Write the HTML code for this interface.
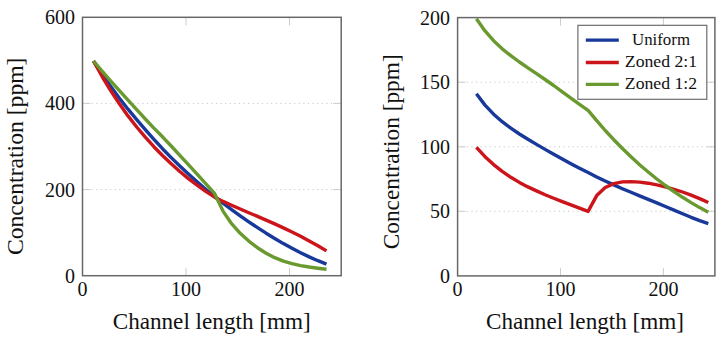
<!DOCTYPE html>
<html><head><meta charset="utf-8"><title>chart</title>
<style>html,body{margin:0;padding:0;background:#fff}body{width:725px;height:341px;overflow:hidden;font-family:"Liberation Serif",serif}</style></head>
<body>
<svg width="725" height="341" viewBox="0 0 725 341" style="display:block" font-family="'Liberation Serif', serif" fill="#111">
<rect width="725" height="341" fill="#fff"/>
<line x1="82.5" y1="189.6" x2="341.2" y2="189.6" stroke="#c8c8c8" stroke-width="1" stroke-dasharray="1.2 3.4"/>
<line x1="82.5" y1="103.4" x2="341.2" y2="103.4" stroke="#c8c8c8" stroke-width="1" stroke-dasharray="1.2 3.4"/>
<line x1="186.0" y1="275.7" x2="186.0" y2="267.7" stroke="#cdcdcd" stroke-width="1"/>
<line x1="186.0" y1="17.3" x2="186.0" y2="25.3" stroke="#cdcdcd" stroke-width="1"/>
<line x1="289.5" y1="275.7" x2="289.5" y2="267.7" stroke="#cdcdcd" stroke-width="1"/>
<line x1="289.5" y1="17.3" x2="289.5" y2="25.3" stroke="#cdcdcd" stroke-width="1"/>
<line x1="82.5" y1="189.6" x2="90.5" y2="189.6" stroke="#cdcdcd" stroke-width="1"/>
<line x1="341.2" y1="189.6" x2="333.2" y2="189.6" stroke="#cdcdcd" stroke-width="1"/>
<line x1="82.5" y1="103.4" x2="90.5" y2="103.4" stroke="#cdcdcd" stroke-width="1"/>
<line x1="341.2" y1="103.4" x2="333.2" y2="103.4" stroke="#cdcdcd" stroke-width="1"/>
<path d="M93.5 61.0 L102.1 74.3 L110.8 86.6 L119.4 98.2 L128.0 109.2 L136.7 119.7 L145.3 129.7 L153.9 139.3 L162.5 148.7 L171.2 157.6 L179.8 166.0 L188.4 174.0 L197.1 181.8 L205.7 189.2 L214.3 196.4 L223.0 203.2 L231.6 209.6 L240.2 215.8 L248.8 221.8 L257.5 227.6 L266.1 233.2 L274.7 238.5 L283.4 243.6 L292.0 248.3 L300.6 252.8 L309.2 256.9 L317.9 260.7 L326.5 264.1" fill="none" stroke="#18399a" stroke-width="3.4" stroke-linejoin="round" stroke-linecap="butt"/>
<path d="M93.5 61.0 L102.1 76.5 L110.8 90.8 L119.4 103.8 L128.0 115.9 L136.7 127.0 L145.3 137.2 L153.9 146.7 L162.5 155.5 L171.2 163.8 L179.8 171.5 L188.4 178.6 L197.1 185.2 L205.7 191.3 L214.3 196.9 L223.0 201.4 L231.6 205.2 L240.2 209.0 L248.8 212.7 L257.5 216.4 L266.1 220.1 L274.7 223.9 L283.4 227.9 L292.0 232.0 L300.6 236.3 L309.2 240.9 L317.9 245.7 L326.5 250.9" fill="none" stroke="#cc141b" stroke-width="3.4" stroke-linejoin="round" stroke-linecap="butt"/>
<path d="M93.5 61.0 L102.1 71.2 L110.8 81.1 L119.4 90.7 L128.0 100.2 L136.7 109.6 L145.3 119.0 L153.9 128.1 L162.5 136.8 L171.2 146.0 L179.8 155.3 L188.4 164.7 L197.1 174.2 L205.7 183.6 L214.3 193.1 L223.0 211.1 L231.6 223.7 L240.2 233.3 L248.8 241.1 L257.5 247.7 L266.1 253.2 L274.7 257.7 L283.4 261.1 L292.0 263.7 L300.6 265.6 L309.2 267.0 L317.9 268.2 L326.5 269.2" fill="none" stroke="#69992f" stroke-width="3.4" stroke-linejoin="round" stroke-linecap="butt"/>
<rect x="82.5" y="17.3" width="258.7" height="258.4" fill="none" stroke="#686868" stroke-width="1.5"/>
<text x="75.0" y="282.6" font-size="20.0" text-anchor="end" >0</text>
<text x="75.0" y="196.5" font-size="20.0" text-anchor="end" >200</text>
<text x="75.0" y="110.3" font-size="20.0" text-anchor="end" >400</text>
<text x="75.0" y="24.2" font-size="20.0" text-anchor="end" >600</text>
<text x="82.5" y="296.3" font-size="20.0" text-anchor="middle" >0</text>
<text x="186.0" y="296.3" font-size="20.0" text-anchor="middle" >100</text>
<text x="289.5" y="296.3" font-size="20.0" text-anchor="middle" >200</text>
<text x="211.7" y="329.2" font-size="23.5" text-anchor="middle" textLength="198.0" lengthAdjust="spacingAndGlyphs" >Channel length [mm]</text>
<g transform="translate(23.3,156.3) rotate(-90)"><text x="0.0" y="0.0" font-size="23.5" text-anchor="middle" textLength="197.5" lengthAdjust="spacingAndGlyphs" >Concentration [ppm]</text>
</g>
<line x1="457.6" y1="211.3" x2="714.9" y2="211.3" stroke="#c8c8c8" stroke-width="1" stroke-dasharray="1.2 3.4"/>
<line x1="457.6" y1="146.8" x2="714.9" y2="146.8" stroke="#c8c8c8" stroke-width="1" stroke-dasharray="1.2 3.4"/>
<line x1="457.6" y1="82.2" x2="714.9" y2="82.2" stroke="#c8c8c8" stroke-width="1" stroke-dasharray="1.2 3.4"/>
<line x1="560.5" y1="275.9" x2="560.5" y2="267.9" stroke="#cdcdcd" stroke-width="1"/>
<line x1="560.5" y1="17.6" x2="560.5" y2="25.6" stroke="#cdcdcd" stroke-width="1"/>
<line x1="663.4" y1="275.9" x2="663.4" y2="267.9" stroke="#cdcdcd" stroke-width="1"/>
<line x1="663.4" y1="17.6" x2="663.4" y2="25.6" stroke="#cdcdcd" stroke-width="1"/>
<line x1="457.6" y1="211.3" x2="465.6" y2="211.3" stroke="#cdcdcd" stroke-width="1"/>
<line x1="714.9" y1="211.3" x2="706.9" y2="211.3" stroke="#cdcdcd" stroke-width="1"/>
<line x1="457.6" y1="146.8" x2="465.6" y2="146.8" stroke="#cdcdcd" stroke-width="1"/>
<line x1="714.9" y1="146.8" x2="706.9" y2="146.8" stroke="#cdcdcd" stroke-width="1"/>
<line x1="457.6" y1="82.2" x2="465.6" y2="82.2" stroke="#cdcdcd" stroke-width="1"/>
<line x1="714.9" y1="82.2" x2="706.9" y2="82.2" stroke="#cdcdcd" stroke-width="1"/>
<path d="M476.4 93.8 L485.0 105.1 L493.6 114.2 L502.2 121.7 L510.8 128.2 L519.4 134.0 L527.9 139.3 L536.5 144.4 L545.1 149.4 L553.7 154.2 L562.3 159.0 L570.9 163.7 L579.5 168.2 L588.1 172.6 L596.7 176.9 L605.2 181.0 L613.8 184.9 L622.4 188.7 L631.0 192.3 L639.6 195.9 L648.2 199.4 L656.8 202.9 L665.4 206.5 L674.0 210.1 L682.6 213.7 L691.1 217.3 L699.7 220.7 L708.3 223.7" fill="none" stroke="#18399a" stroke-width="3.4" stroke-linejoin="round" stroke-linecap="butt"/>
<path d="M476.4 147.3 L485.0 156.7 L493.6 164.6 L502.2 171.4 L510.8 177.3 L519.4 182.4 L527.9 186.9 L536.5 190.9 L545.1 194.7 L553.7 198.2 L562.3 201.6 L570.9 204.9 L579.5 208.2 L588.1 211.4 L596.7 195.6 L605.2 187.5 L613.8 183.6 L622.4 181.9 L631.0 181.6 L639.6 182.1 L648.2 183.2 L656.8 184.9 L665.4 186.9 L674.0 189.3 L682.6 192.0 L691.1 195.2 L699.7 198.6 L708.3 202.5" fill="none" stroke="#cc141b" stroke-width="3.4" stroke-linejoin="round" stroke-linecap="butt"/>
<path d="M476.4 18.8 L485.0 30.9 L493.6 40.7 L502.2 48.8 L510.8 55.7 L519.4 62.0 L527.9 67.8 L536.5 73.6 L545.1 79.5 L553.7 85.5 L562.3 91.8 L570.9 98.1 L579.5 104.4 L588.1 110.3 L596.7 120.6 L605.2 130.5 L613.8 139.7 L622.4 148.5 L631.0 156.8 L639.6 164.7 L648.2 172.0 L656.8 179.0 L665.4 185.5 L674.0 191.6 L682.6 197.3 L691.1 202.6 L699.7 207.6 L708.3 212.2" fill="none" stroke="#69992f" stroke-width="3.4" stroke-linejoin="round" stroke-linecap="butt"/>
<rect x="457.6" y="17.6" width="257.3" height="258.3" fill="none" stroke="#686868" stroke-width="1.5"/>
<text x="450.0" y="282.8" font-size="20.0" text-anchor="end" >0</text>
<text x="450.0" y="218.2" font-size="20.0" text-anchor="end" >50</text>
<text x="450.0" y="153.7" font-size="20.0" text-anchor="end" >100</text>
<text x="450.0" y="89.1" font-size="20.0" text-anchor="end" >150</text>
<text x="450.0" y="24.5" font-size="20.0" text-anchor="end" >200</text>
<text x="457.6" y="296.0" font-size="20.0" text-anchor="middle" >0</text>
<text x="560.5" y="296.0" font-size="20.0" text-anchor="middle" >100</text>
<text x="663.4" y="296.0" font-size="20.0" text-anchor="middle" >200</text>
<text x="585.0" y="329.2" font-size="23.5" text-anchor="middle" textLength="198.0" lengthAdjust="spacingAndGlyphs" >Channel length [mm]</text>
<g transform="translate(399.3,151.8) rotate(-90)"><text x="0.0" y="0.0" font-size="23.5" text-anchor="middle" textLength="195.0" lengthAdjust="spacingAndGlyphs" >Concentration [ppm]</text>
</g>
<rect x="577.9" y="25.3" width="128.9" height="74.0" fill="#fff" stroke="#686868" stroke-width="1.15"/>
<line x1="585.8" y1="40.2" x2="618.8" y2="40.2" stroke="#18399a" stroke-width="3.3"/>
<text x="661.0" y="44.9" font-size="16.5" text-anchor="middle" textLength="58.0" lengthAdjust="spacingAndGlyphs" >Uniform</text>
<line x1="585.8" y1="62.5" x2="618.8" y2="62.5" stroke="#cc141b" stroke-width="3.3"/>
<text x="661.0" y="67.2" font-size="16.5" text-anchor="middle" textLength="72.3" lengthAdjust="spacingAndGlyphs" >Zoned 2:1</text>
<line x1="585.8" y1="84.3" x2="618.8" y2="84.3" stroke="#69992f" stroke-width="3.3"/>
<text x="661.0" y="89.0" font-size="16.5" text-anchor="middle" textLength="72.3" lengthAdjust="spacingAndGlyphs" >Zoned 1:2</text>
</svg>
</body></html>
